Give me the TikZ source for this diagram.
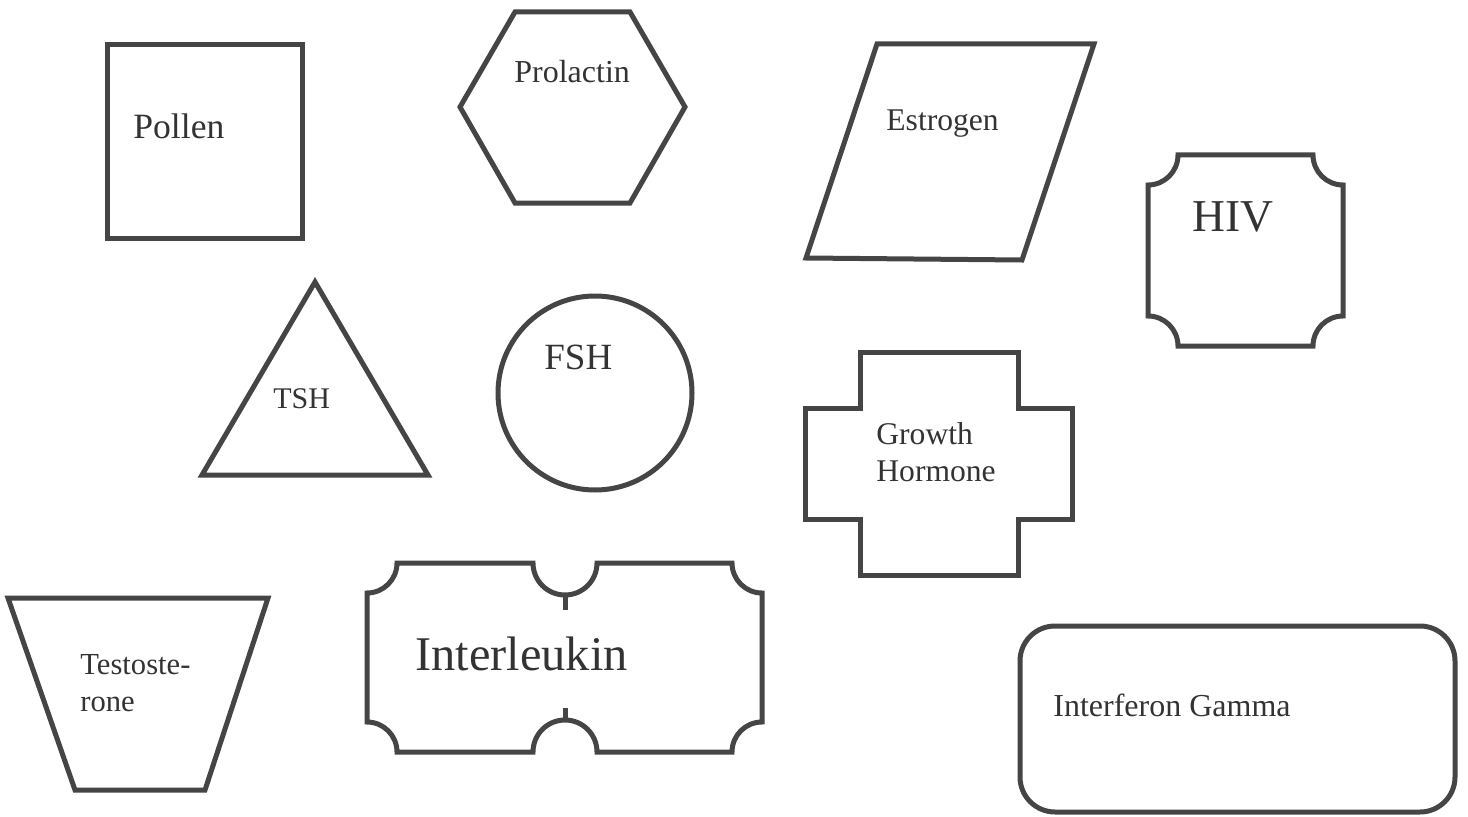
\documentclass[tikz,border=0pt]{standalone}
\usepackage{fontspec}
\setmainfont{Liberation Serif}
\definecolor{inkline}{HTML}{454545}
\definecolor{inktext}{HTML}{333333}

\begin{document}
\begin{tikzpicture}
[x=0.5pt,y=0.5pt,%
  every node/.style={inner sep=0pt,anchor=west,text=inktext},%
  outline/.style={draw=inkline,line width=2.5pt,line join=miter}]
\useasboundingbox (0,0) rectangle (1468,816);
% top row
\draw[outline] (107,578) rectangle (302,771);
\node[font=\fontsize{17.8}{20}\selectfont] (pollen) at (133,690) {Pollen};
\draw[outline] (460,709) -- (515,804) -- (630,804) -- (685,709) -- (630,613) -- (515,613) -- cycle;
\node[font=\fontsize{16}{19}\selectfont] (prolactin) at (514,744) {Prolactin};
\draw[outline] (877,772) -- (1094,772) -- (1022,556) -- (806,558) -- cycle;
\node[font=\fontsize{15.8}{19}\selectfont] (estrogen) at (886,692) {Estrogen};
\draw[outline] (1178,661) -- (1313,661) arc[start angle=180,end angle=270,radius=30]
  -- (1343,500) arc[start angle=90,end angle=180,radius=30]
  -- (1178,470) arc[start angle=0,end angle=90,radius=30]
  -- (1148,631) arc[start angle=270,end angle=360,radius=30] -- cycle;
\node[font=\fontsize{22.8}{26}\selectfont] (hiv) at (1192,599) {HIV};
% middle row
\draw[outline] (315,534) -- (428,341) -- (202,341) -- cycle;
\node[font=\fontsize{15}{18}\selectfont] (tsh) at (273,417) {TSH};
\draw[outline] (595,423) circle[radius=97];
\node[font=\fontsize{18.5}{22}\selectfont] (fsh) at (544,459) {FSH};
\draw[outline] (860,464) -- (1018,464) -- (1018,408) -- (1072,408) -- (1072,297) -- (1018,297)
  -- (1018,241) -- (860,241) -- (860,297) -- (805,297) -- (805,408) -- (860,408) -- cycle;
\node[align=left,font=\fontsize{15.8}{18.5}\selectfont] (growth) at (876,364) {Growth\\Hormone};
% bottom row
\draw[outline] (8,218) -- (268,218) -- (205,26) -- (75,26) -- cycle;
\node[align=left,font=\fontsize{15.3}{18.5}\selectfont] (testo) at (80,133) {Testoste-\\rone};
\draw[outline] (397,253) -- (533,253) arc[start angle=180,end angle=360,radius=32]
  -- (732,253) arc[start angle=180,end angle=270,radius=30]
  -- (762,94) arc[start angle=90,end angle=180,radius=30]
  -- (597,64) arc[start angle=0,end angle=180,radius=32]
  -- (397,64) arc[start angle=0,end angle=90,radius=30]
  -- (367,223) arc[start angle=270,end angle=360,radius=30] -- cycle;
\draw[outline] (565,221) -- (565,206);
\draw[outline] (565,96) -- (565,108);
\node[font=\fontsize{24.2}{28}\selectfont] (inter) at (415,162) {Interleukin};
\draw[outline,rounded corners=17.5pt] (1020,4) rectangle (1455,190);
\node[font=\fontsize{16}{19}\selectfont] (gamma) at (1053,111) {Interferon Gamma};
\end{tikzpicture}
\end{document}
